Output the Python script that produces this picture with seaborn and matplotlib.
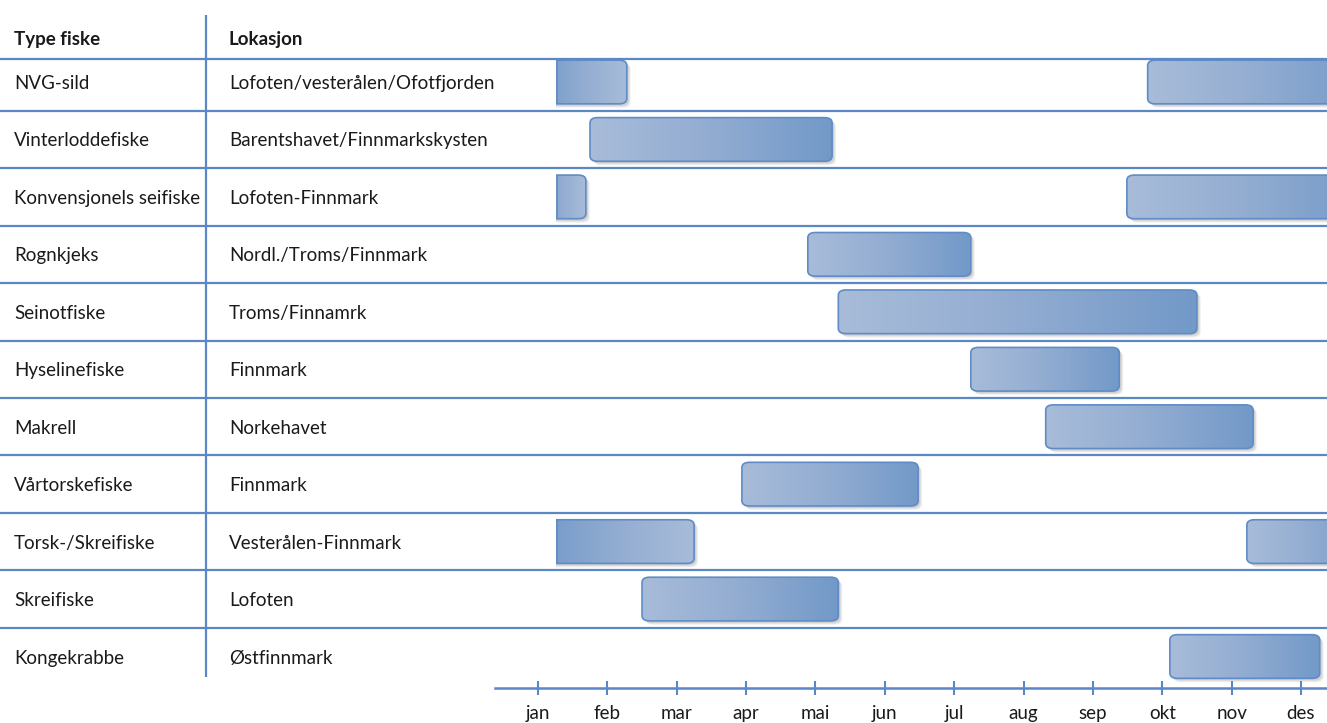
import numpy as np
import matplotlib
matplotlib.use("Agg")
import matplotlib.pyplot as plt
from matplotlib.patches import FancyBboxPatch
from matplotlib.colors import LinearSegmentedColormap
import seaborn as sns

# ---------------- data ----------------
fiske = ["NVG-sild", "Vinterloddefiske", "Konvensjonels seifiske", "Rognkjeks",
         "Seinotfiske", "Hyselinefiske", "Makrell", "Vårtorskefiske",
         "Torsk-/Skreifiske", "Skreifiske", "Kongekrabbe"]
lokasjon = ["Lofoten/vesterålen/Ofotfjorden", "Barentshavet/Finnmarkskysten",
            "Lofoten-Finnmark", "Nordl./Troms/Finnmark", "Troms/Finnamrk",
            "Finnmark", "Norkehavet", "Finnmark", "Vesterålen-Finnmark",
            "Lofoten", "Østfinnmark"]
header_fiske = "Type fiske"
header_lok = "Lokasjon"

# fishing periods (month scale: jan=1 ... des=12)
bar_row = [0, 0, 1, 2, 2, 3, 4, 5, 6, 7, 8, 8, 9, 10]
bar_start = [1.0, 9.79, 1.75, 1.0, 9.49, 4.89, 5.33, 7.24, 8.32, 3.94, 1.0, 11.22, 2.50, 10.11]
bar_end = [2.28, 13.0, 5.24, 1.69, 13.0, 7.24, 10.50, 9.38, 11.31, 6.48, 3.25, 13.0, 5.33, 12.27]

maaneder = ["jan", "feb", "mar", "apr", "mai", "jun", "jul", "aug", "sep", "okt", "nov", "des"]
maaned_pos = list(range(1, 13))

# ---------------- style ----------------
sns.set_theme(style="white")
plt.rcParams['font.family'] = ['Lato', 'DejaVu Sans']

W, H = 1327, 723
ROW0, ROWH = 82.0, 57.45      # pixel centre of first row, row pitch
PXM = 69.36                   # pixels per month
line_c = "#5b87c5"
txt_c = "#1a1a1a"
fs = 13.5

def py(p):
    return (p - ROW0) / ROWH

def mx(p):
    return 1 + (p - 538) / PXM

fig = plt.figure(figsize=(W / 100, H / 100), dpi=100)
fig.patch.set_facecolor("white")

# table axes (pixel x, row y)
tab = fig.add_axes([0, 0, 1, 1])
tab.set_xlim(0, W)
tab.set_ylim(py(H), py(0))
tab.axis("off")

hl = [-0.40] + [i + 0.5 for i in range(len(fiske) - 1)]
tab.hlines(hl, 0, W, color=line_c, lw=1.6)
tab.vlines(206, py(15), py(677), color=line_c, lw=1.6)

dy = 1.5 / ROWH
tab.text(14, py(38) + dy, header_fiske, fontsize=fs, fontweight="bold", color=txt_c, va="center")
tab.text(229, py(38) + dy, header_lok, fontsize=fs, fontweight="bold", color=txt_c, va="center")
for i, (f, l) in enumerate(zip(fiske, lokasjon)):
    tab.text(14, i + dy, f, fontsize=fs, color=txt_c, va="center")
    tab.text(229, i + dy, l, fontsize=fs, color=txt_c, va="center")

# bars axes
bx = fig.add_axes([556 / W, 0, (W - 556) / W, 1])
bx.patch.set_alpha(0)
bx.axis("off")
xl = (mx(556), mx(W))
yl = (py(H), py(0))

light = "#a8bcd9"
dark = "#7299c8"
edge = "#5f8cc6"
cmap = LinearSegmentedColormap.from_list("g", [light, "#92acd1", dark])
grad = np.linspace(0, 1, 256).reshape(1, -1)
bh = 0.76
aspect = PXM / ROWH
rr = 0.11

for r, s, e in zip(bar_row, bar_start, bar_end):
    x0, w = s, e - s
    y0 = r - bh / 2
    for k, a in [(4, 0.10), (3, 0.14), (2, 0.18)]:
        sh = FancyBboxPatch((x0 + k / PXM, y0 + k / ROWH), w, bh,
                            boxstyle=f"round,pad=0,rounding_size={rr}",
                            mutation_aspect=1 / aspect, fc="#808080", ec="none",
                            alpha=a, zorder=1)
        bx.add_patch(sh)
    p = FancyBboxPatch((x0, y0), w, bh, boxstyle=f"round,pad=0,rounding_size={rr}",
                       mutation_aspect=1 / aspect, fc="none", ec=edge,
                       lw=1.2, zorder=3)
    bx.add_patch(p)
    left_cut = s <= xl[0]
    g = grad[:, ::-1] if left_cut else grad
    im = bx.imshow(g, extent=(x0, e, y0 + bh, y0), aspect="auto", cmap=cmap,
                   interpolation="bicubic", zorder=2)
    clip = FancyBboxPatch((x0, y0), w, bh, boxstyle=f"round,pad=0,rounding_size={rr}",
                          mutation_aspect=1 / aspect, fc="none", ec="none",
                          transform=bx.transData)
    bx.add_patch(clip)
    im.set_clip_path(clip)
    if left_cut:
        bx.vlines(xl[0] + 0.7 / PXM, y0, y0 + bh, color=edge, lw=1.2, zorder=4)

bx.set_xlim(*xl)
bx.set_ylim(*yl)

# timeline axes
tl = fig.add_axes([495 / W, 1 - 688 / H, (W - 495) / W, 0.0001])
tl.set_xlim(mx(495), mx(W))
tl.set_yticks([])
for sp in ["top", "left", "right"]:
    tl.spines[sp].set_visible(False)
tl.spines["bottom"].set_color(line_c)
tl.spines["bottom"].set_linewidth(1.8)
tl.set_xticks(maaned_pos)
tl.set_xticklabels(maaneder, fontsize=fs, color=txt_c)
tl.tick_params(axis="x", direction="inout", length=10, width=1.5, color=line_c,
               pad=7, bottom=True)
tl.patch.set_alpha(0)

fig.savefig("out.png", dpi=100, facecolor="white")
